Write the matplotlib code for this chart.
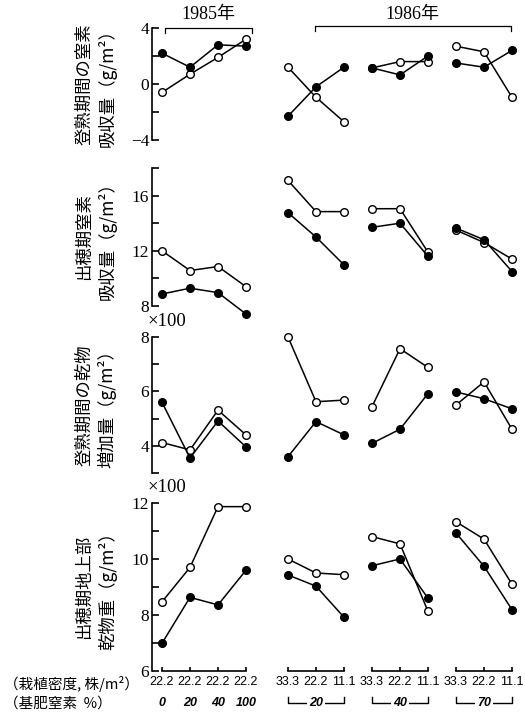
import matplotlib.pyplot as plt
from matplotlib.transforms import offset_copy

plt.rcParams['font.family'] = ['Liberation Serif', 'Noto Sans CJK JP', 'DejaVu Sans']

# x位置: 1985年は4点、1986年は3点ずつ3群
x85 = [0, 1, 2, 3]
x86 = [[4.5, 5.5, 6.5], [7.5, 8.5, 9.5], [10.5, 11.5, 12.5]]

density85 = ['22.2', '22.2', '22.2', '22.2']
nitro85 = ['0', '20', '40', '100']
density86 = ['33.3', '22.2', '11.1']
nitro86 = ['20', '40', '70']

# パネル1: 登熟期間の窒素吸収量
p1_filled85 = [2.2, 1.2, 2.8, 2.7]
p1_open85 = [-0.6, 0.7, 1.9, 3.2]
p1_filled86 = [-2.3, -0.2, 1.2, 1.15, 0.65, 2.0, 1.5, 1.2, 2.4]
p1_open86 = [1.2, -0.95, -2.7, 1.15, 1.6, 1.6, 2.7, 2.3, -0.95]

# パネル2: 出穂期窒素吸収量
p2_filled85 = [8.87, 9.29, 8.97, 7.42]
p2_open85 = [12.0, 10.57, 10.86, 9.4]
p2_filled86 = [14.76, 13.0, 10.98, 13.7, 14.0, 11.6, 13.65, 12.8, 10.5]
p2_open86 = [17.1, 14.84, 14.84, 15.05, 15.05, 11.9, 13.5, 12.6, 11.4]

# パネル3: 登熟期間の乾物増加量 (x100)
p3_filled85 = [5.6, 3.55, 4.91, 3.96]
p3_open85 = [4.12, 3.85, 5.31, 4.4]
p3_filled86 = [3.6, 4.89, 4.4, 4.09, 4.61, 5.92, 5.98, 5.73, 5.36]
p3_open86 = [8.0, 5.62, 5.68, 5.44, 7.57, 6.88, 5.5, 6.35, 4.61]

# パネル4: 出穂期地上部乾物重 (x100)
p4_filled85 = [6.99, 8.63, 8.36, 9.6]
p4_open85 = [8.47, 9.7, 11.87, 11.87]
p4_filled86 = [9.43, 9.03, 7.92, 9.76, 10.0, 8.6, 10.93, 9.74, 8.19]
p4_open86 = [10.0, 9.5, 9.44, 10.8, 10.54, 8.13, 11.33, 10.71, 9.1]

panels = [
    dict(label='登熟期間の窒素\n吸収量（g/m²）', ylim=(-4, 4), step=2, major=[-4, 0, 4],
         px=(28, 140), scale=False,
         data=(p1_filled85, p1_open85, p1_filled86, p1_open86)),
    dict(label='出穂期窒素\n吸収量（g/m²）', ylim=(8, 18), step=2, major=[8, 12, 16],
         px=(168, 306), scale=False,
         data=(p2_filled85, p2_open85, p2_filled86, p2_open86)),
    dict(label='登熟期間の乾物\n増加量（g/m²）', ylim=(3, 8), step=1, major=[4, 6, 8],
         px=(337, 473), scale=True,
         data=(p3_filled85, p3_open85, p3_filled86, p3_open86)),
    dict(label='出穂期地上部\n乾物重（g/m²）', ylim=(6, 12), step=1, major=[6, 8, 10, 12],
         px=(503, 671), scale=True,
         data=(p4_filled85, p4_open85, p4_filled86, p4_open86)),
]

W, H = 525, 716
fig = plt.figure(figsize=(W / 100, H / 100), dpi=100)

ax_left, ax_right = 152, 522
unit = 28.0  # px per x step
xmin = (ax_left - 162) / unit
xmax = (ax_right - 162) / unit

cjk = ['Noto Sans CJK JP', 'DejaVu Sans']
axes = []
for p in panels:
    top, bot = p['px']
    ax = fig.add_axes([ax_left / W, 1 - bot / H, (ax_right - ax_left) / W, (bot - top) / H])
    axes.append(ax)
    ax.set_xlim(xmin, xmax)
    ax.set_ylim(*p['ylim'])
    for s in ['top', 'right', 'bottom']:
        ax.spines[s].set_visible(False)
    ax.spines['left'].set_linewidth(1.2)
    lo, hi = p['ylim']
    ticks = list(range(lo, hi + 1, p['step']))
    ax.set_yticks(p['major'])
    ax.set_yticks([t for t in ticks if t not in p['major']], minor=True)
    ax.tick_params(axis='y', which='both', direction='in', length=5, width=1.2,
                   labelsize=12.5, pad=2)
    ax.set_xticks([])

    f85, o85, f86, o86 = p['data']
    kw = dict(color='black', lw=1.1, marker='o', ms=5.5, mec='black', mew=1.0, clip_on=False)
    ax.plot(x85, o85, mfc='white', zorder=3, **kw)
    ax.plot(x85, f85, mfc='black', zorder=4, **kw)
    for i, g in enumerate(x86):
        ax.plot(g, o86[3 * i:3 * i + 3], mfc='white', zorder=3, **kw)
        ax.plot(g, f86[3 * i:3 * i + 3], mfc='black', zorder=4, **kw)

    ax.annotate(p['label'], xy=(0, 0.5), xycoords='axes fraction', xytext=(-56, 0),
                textcoords='offset pixels', rotation=90, ha='center', va='center',
                multialignment='center', fontsize=12.5, family=cjk, linespacing=1.3)
    if p['scale']:
        ax.annotate('×100', xy=(0, 1), xycoords='axes fraction', xytext=(-4, 15),
                    textcoords='offset pixels', ha='left', va='center', fontsize=13.5)

# 年の括弧
ax1 = axes[0]
b85 = (x85[0] + 0.1, x85[-1] + 0.2)
b86 = (x86[0][1] - 0.03, x86[-1][-1] - 0.05)
ax1.plot([b85[0], b85[0], b85[1], b85[1]], [3.65, 4.0, 4.0, 3.65], color='black', lw=0.9, clip_on=False)
ax1.plot([b86[0], b86[0], b86[1], b86[1]], [3.75, 4.12, 4.12, 3.75], color='black', lw=0.9, clip_on=False)
ax1.text(sum(b85) / 2, 4.93, '1985年', ha='center', va='center', fontsize=13)
ax1.text(sum(b86) / 2, 4.93, '1986年', ha='center', va='center', fontsize=13)

# 下部のx軸
ax4 = axes[-1]
y0 = ax4.get_ylim()[0]
for g in [x85] + x86:
    ax4.plot([g[0], g[-1]], [y0, y0], color='black', lw=1.2, clip_on=False)
    ax4.vlines(g, y0, y0 + 0.15, color='black', lw=1.2, clip_on=False)

numfont = dict(family=['Liberation Sans', 'DejaVu Sans'], fontsize=9)
for x, d, n in zip(x85, density85, nitro85):
    ax4.annotate(d, xy=(x, y0), xytext=(0, -11), textcoords='offset pixels',
                 ha='center', va='center', **numfont)
    ax4.annotate(n, xy=(x, y0), xytext=(0, -32), textcoords='offset pixels',
                 ha='center', va='center', style='italic', weight='bold', **numfont)

trans = offset_copy(ax4.transData, fig=fig, x=0, y=-32, units='dots')
for g, n in zip(x86, nitro86):
    for x, d in zip(g, density86):
        ax4.annotate(d, xy=(x, y0), xytext=(0, -11), textcoords='offset pixels',
                     ha='center', va='center', **numfont)
    ax4.plot([g[0], g[0], g[-1], g[-1]], [y0 + 0.22, y0, y0, y0 + 0.22],
             color='black', lw=1.0, clip_on=False, transform=trans)
    ax4.text((g[0] + g[-1]) / 2, y0, n, transform=trans, ha='center', va='center',
             style='italic', weight='bold',
             bbox=dict(facecolor='white', edgecolor='none', pad=1.5), **numfont)

fig.text(4 / W, 1 - 684 / H, '（栽植密度, 株/m²）', ha='left', va='center', fontsize=10.5, family=cjk)
fig.text(4 / W, 1 - 704 / H, '（基肥窒素  %）', ha='left', va='center', fontsize=10.5, family=cjk)

fig.savefig('out.png', dpi=100)
